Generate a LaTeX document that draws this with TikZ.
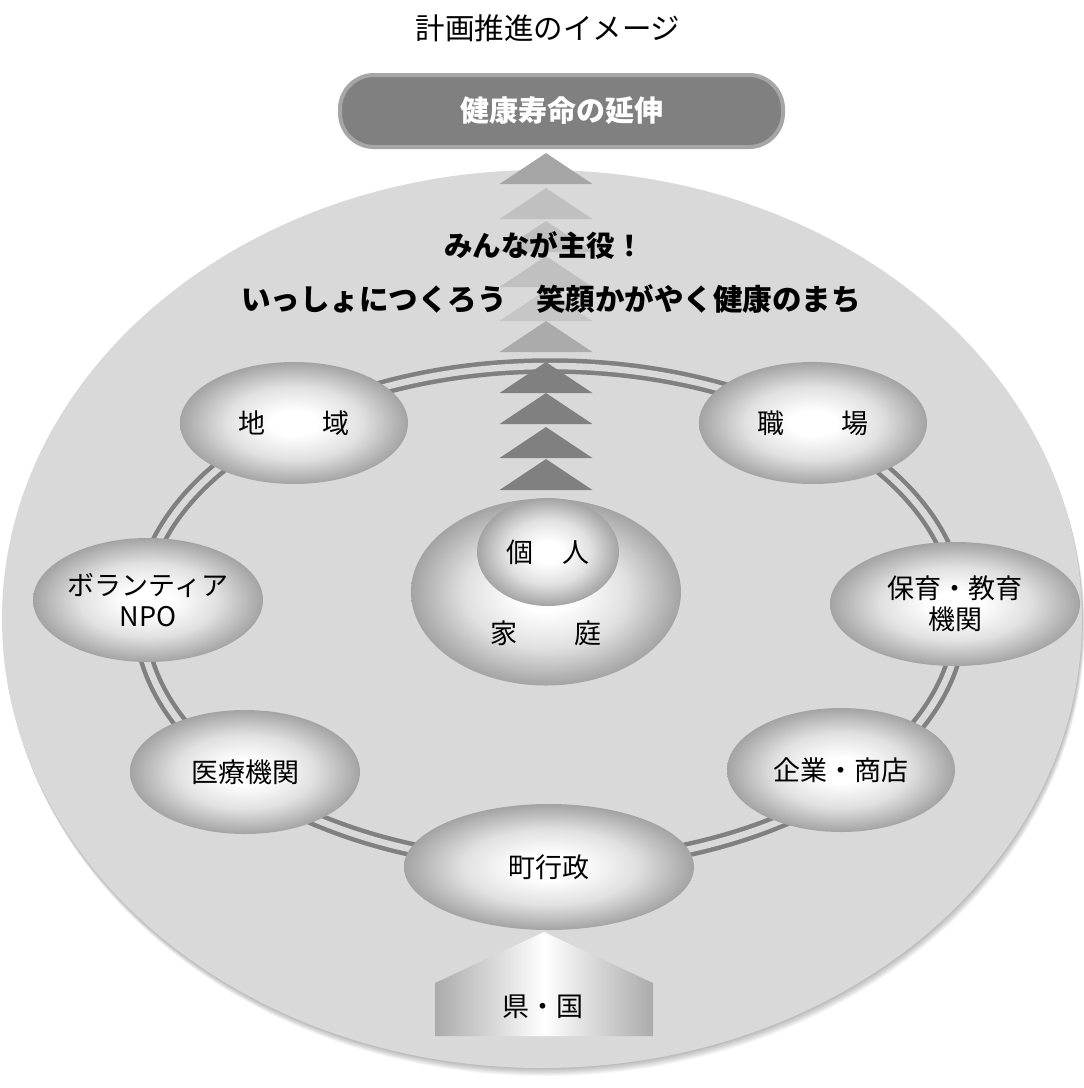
\documentclass[tikz,border=0pt]{standalone}
\usepackage{fontspec}
\setmainfont{Noto Sans CJK JP}
\usetikzlibrary{shapes.geometric}
\definecolor{bgc}{HTML}{D9D9D9}
\definecolor{ringc}{HTML}{808080}
\definecolor{triA}{HTML}{A6A6A6}
\definecolor{triB}{HTML}{C0C0C0}
\definecolor{triC}{HTML}{C6C6C6}
\definecolor{triE}{HTML}{ABABAB}
\definecolor{triD}{HTML}{808080}
\definecolor{banfill}{HTML}{808080}
\definecolor{banedge}{HTML}{A6A6A6}
\pgfdeclareradialshading{ballx}{\pgfpoint{0bp}{0bp}}{color(0bp)=(white); color(5bp)=(white); color(15bp)=(black!12); color(25bp)=(black!36); color(50bp)=(black!36)}
\tikzset{
  org/.style={ellipse, shading=ballx, inner sep=0pt, align=center,
    font=\fontsize{27}{31}\selectfont},
  lbl/.style={inner sep=0pt, align=center, font=\fontsize{27}{31}\selectfont},
  motto/.style={inner sep=0pt, font=\bfseries\fontsize{28.5}{32}\selectfont},
  banner/.style={rectangle, rounded corners=34pt, minimum width=443pt, minimum height=72pt,
    fill=banfill, draw=banedge, line width=4pt, text=white,
    font=\bfseries\fontsize{29}{32}\selectfont},
  ringline/.style={draw=ringc, line width=4.5pt, double=bgc, double distance=6.5pt},
}
\begin{document}
\begin{tikzpicture}[x=1pt,y=-1pt]
\useasboundingbox (0,0) rectangle (1084,1088);
\fill[white] (0,0) rectangle (1084,1088);
% shadow of the big ellipse
\foreach \i in {1,...,9}
  \fill[black,opacity=0.03] (542+0.3*\i,619+0.9*\i) ellipse [x radius=540pt, y radius=449pt];
\fill[bgc] (542,619) ellipse [x radius=540pt, y radius=449pt];
% ring
\draw[ringline] (550,615) ellipse [x radius=410pt, y radius=249pt];
% arrow triangles
\foreach \y/\c in {153/triA,188/triB,221/triB,256/triB,290/triC,321/triE,362/triD,393/triD,427/triD,459/triD}
  \fill[\c] (546,\y) -- ++(46.5,31) -- ++(-93,0) -- cycle;
% motto
\node[motto] (m1) at (544,245) {みんなが主役！};
\node[motto, font=\bfseries\fontsize{29.5}{32}\selectfont] (m2) at (551,299) {いっしょにつくろう　笑顔かがやく健康のまち};
% organisations
\node[org, minimum width=228pt, minimum height=122pt] (chiiki) at (294,423) {地\hspace{2.1em}域};
\node[org, minimum width=228pt, minimum height=122pt] (shokuba) at (813,423) {職\hspace{2.1em}場};
\node[org, minimum width=230pt, minimum height=124pt] (npo) at (148,600) {ボランティア\\NPO};
\node[org, minimum width=250pt, minimum height=124pt] (hoiku) at (955,604) {保育・教育\\機関};
\node[org, minimum width=230pt, minimum height=124pt] (iryo) at (245,772) {医療機関};
\node[org, minimum width=228pt, minimum height=124pt] (kigyo) at (841,770) {企業・商店};
\node[org, minimum width=290pt, minimum height=126pt] (cho) at (549,867) {町行政};
\node[org, minimum width=270pt, minimum height=187pt] (katei) at (546,592) {};
\node[lbl] (kateilbl) at (546,633) {家\hspace{2.1em}庭};
\node[org, minimum width=142pt, minimum height=108pt] (kojin) at (548,552) {個\hspace{1.1em}人};
% house
\coordinate (hl) at (435,1036);
\coordinate (hr) at (653,1036);
\shade[left color=black!33, right color=black!33, middle color=white]
  (hl) -- (435,983) -- (544,932) -- (653,983) -- (hr) -- cycle;
\node[lbl] (ken) at (543,1007) {県・国};
% goal banner
\node[banner] (goal) at (561.5,111) {健康寿命の延伸};
% title
\node[inner sep=0pt, font=\fontsize{29.5}{32}\selectfont] (title) at (548,28) {計画推進のイメージ};
\end{tikzpicture}
\end{document}
